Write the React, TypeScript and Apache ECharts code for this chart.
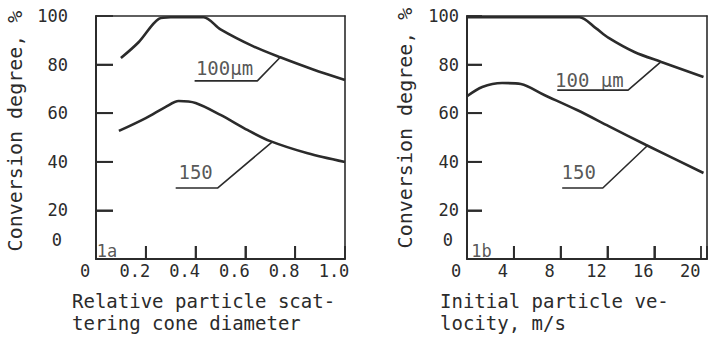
import React, { useEffect, useRef } from 'react';
import * as echarts from 'echarts';

// Panel 1a: conversion vs relative particle scattering cone diameter
const xA100 = [0.10, 0.172, 0.252, 0.30, 0.432, 0.50, 0.632, 0.74, 0.872, 1.0];
const yA100 = [82.7, 89.3, 98.8, 99.5, 99.5, 94.5, 87.5, 83.0, 78.0, 73.7];
const xA150 = [0.092, 0.2, 0.28, 0.332, 0.4, 0.5, 0.61, 0.70, 0.85, 1.0];
const yA150 = [52.7, 58.0, 62.6, 65.0, 64.2, 59.3, 53.0, 48.5, 43.5, 39.9];

// Panel 1b: conversion vs initial particle velocity
const xB100 = [0, 9.6, 11.0, 12.1, 14.3, 16.6, 20.2];
const yB100 = [99.5, 99.5, 95.0, 91.0, 85.2, 81.1, 74.9];
const xB150 = [0, 1.3, 3.0, 4.6, 6.6, 9.4, 12.1, 15.3, 20.2];
const yB150 = [67.0, 70.8, 72.4, 72.0, 67.5, 61.3, 54.7, 46.9, 35.4];

// Tick values / labels
const yTickValues = [20, 40, 60, 80];
const yLabelValues = [0, 20, 40, 60, 80, 100];
const xTickValuesA = [0.2, 0.4, 0.6, 0.8];
const xLabelValuesA = [0, 0.2, 0.4, 0.6, 0.8, 1.0];
const xLabelTextA = ['0', '0.2', '0.4', '0.6', '0.8', '1.0'];
const xTickValuesB = [4, 8, 12, 16];
const xLabelValuesB = [0, 4, 8, 12, 16, 20];
const xLabelTextB = ['0', '4', '8', '12', '16', '20'];

// Annotation leaders (data coordinates) and labels
const leaderA100x = [0.396, 0.648, 0.74];
const leaderA100y = [73.3, 73.3, 83.0];
const leaderA150x = [0.32, 0.488, 0.708];
const leaderA150y = [29.2, 29.2, 48.2];
const leaderB100x = [7.71, 13.76, 16.58];
const leaderB100y = [69.5, 69.5, 81.2];
const leaderB150x = [8.13, 11.6, 15.4];
const leaderB150y = [29.2, 29.2, 46.6];

const labelA100 = { text: '100µm', x: 0.516, y: 78.6 };
const labelA150 = { text: '150', x: 0.40, y: 35.8 };
const labelB100 = { text: '100 µm', x: 10.45, y: 73.7 };
const labelB150 = { text: '150', x: 9.54, y: 35.8 };
const panelA = { text: '1a', x: 0.044, y: 3.3 };
const panelB = { text: '1b', x: 1.24, y: 3.3 };

const yName = 'Conversion degree, %';
const xNameA = 'Relative particle scat-\ntering cone diameter';
const xNameB = 'Initial particle ve-\nlocity, m/s';

const FONT = '"DejaVu Sans Mono", monospace';
const INK = '#2b2b2b';

const XMAX_A = 1;
const XMAX_B = 20.5;

const zip = (xs: number[], ys: number[]) => xs.map((x, i) => [x, ys[i]]);

export default function App() {
  const ref = useRef<HTMLDivElement>(null);
  useEffect(() => {
    if (!ref.current) return;
    const chart = echarts.init(ref.current, undefined, { renderer: 'svg' });

    const segment = (data: number[][], idx: number, width: number) => ({
      type: 'line',
      xAxisIndex: idx,
      yAxisIndex: idx,
      data,
      symbol: 'none',
      clip: false,
      lineStyle: { color: INK, width },
      silent: true,
    });

    const curve = (data: number[][], idx: number) => ({
      type: 'line',
      xAxisIndex: idx,
      yAxisIndex: idx,
      data,
      smooth: 0.3,
      symbol: 'none',
      lineStyle: { color: INK, width: 2.6 },
      silent: true,
    });
    const tag = (l: { text: string; x: number; y: number }, idx: number, size: number) => ({
      type: 'scatter',
      xAxisIndex: idx,
      yAxisIndex: idx,
      symbolSize: 0,
      data: [[l.x, l.y]],
      label: {
        show: true,
        position: 'inside',
        formatter: l.text,
        fontFamily: FONT,
        fontSize: size,
        color: INK,
      },
      silent: true,
    });

    const yAxis = (idx: number, margin: number, tickLen: number) => ({
      type: 'value',
      gridIndex: idx,
      position: 'left',
      min: 0,
      max: 100,
      interval: 20,
      splitLine: { show: false },
      axisLine: { show: true, onZero: false, lineStyle: { color: INK, width: 2 } },
      axisTick: { show: true, inside: true, length: tickLen, lineStyle: { color: INK, width: 1.8 } },
      axisLabel: {
        margin,
        fontFamily: FONT,
        fontSize: 17,
        color: INK,
        formatter: (v: number) => {
          const i = yLabelValues.indexOf(v);
          if (i < 0) return '';
          return v === 0 ? '{z|0}' : String(yLabelValues[i]);
        },
        rich: {
          z: { fontFamily: FONT, fontSize: 17, color: INK, padding: [0, 6, 38, 0] },
        },
      },
    });

    const xAxis = (idx: number, max: number, interval: number, vals: number[], texts: string[]) => ({
      type: 'value',
      gridIndex: idx,
      position: 'bottom',
      min: 0,
      max,
      interval,
      splitLine: { show: false },
      axisLine: { show: true, onZero: false, lineStyle: { color: INK, width: 2 } },
      axisTick: { show: true, inside: true, length: 13, lineStyle: { color: INK, width: 1.8 } },
      axisLabel: {
        margin: 3,
        showMaxLabel: true,
        fontFamily: FONT,
        fontSize: 17,
        color: INK,
        padding: [0, 22, 0, 0],
        formatter: (v: number) => {
          const i = vals.findIndex((w) => Math.abs(w - v) < 1e-6);
          return i >= 0 ? texts[i] : '';
        },
      },
    });

    // frame axes (top and right edges of each panel)
    const frameX = (idx: number, max: number) => ({
      type: 'value',
      gridIndex: idx,
      position: 'top',
      min: 0,
      max,
      axisLine: { show: true, onZero: false, lineStyle: { color: INK, width: 1.6 } },
      axisTick: { show: false },
      axisLabel: { show: false },
      splitLine: { show: false },
    });
    const frameY = (idx: number) => ({
      type: 'value',
      gridIndex: idx,
      position: 'right',
      min: 0,
      max: 100,
      axisLine: { show: true, onZero: false, lineStyle: { color: INK, width: 1.6 } },
      axisTick: { show: false },
      axisLabel: { show: false },
      splitLine: { show: false },
    });

    const texts = [
      {
        type: 'text',
        x: 15,
        y: 131,
        rotation: Math.PI / 2,
        style: { text: yName, fontFamily: FONT, fontSize: 20, fill: INK, align: 'center', verticalAlign: 'middle' },
      },
      {
        type: 'text',
        x: 405,
        y: 128,
        rotation: Math.PI / 2,
        style: { text: yName, fontFamily: FONT, fontSize: 20, fill: INK, align: 'center', verticalAlign: 'middle' },
      },
      {
        type: 'text',
        x: 72,
        y: 290,
        style: { text: xNameA, fontFamily: FONT, fontSize: 19, lineHeight: 22, fill: INK, align: 'left', verticalAlign: 'top' },
      },
      {
        type: 'text',
        x: 440,
        y: 290,
        style: { text: xNameB, fontFamily: FONT, fontSize: 19, lineHeight: 22, fill: INK, align: 'left', verticalAlign: 'top' },
      },
    ];

    chart.setOption({
      animation: false,
      backgroundColor: '#ffffff',
      grid: [
        { left: 96, top: 16, width: 249, height: 243 },
        { left: 467, top: 16, width: 247, height: 243 },
      ],
      xAxis: [
        xAxis(0, XMAX_A, 0.2, xLabelValuesA, xLabelTextA),
        xAxis(1, XMAX_B, 4, xLabelValuesB, xLabelTextB),
        frameX(0, XMAX_A),
        frameX(1, XMAX_B),
      ],
      yAxis: [yAxis(0, 28, 17), yAxis(1, 8, 15), frameY(0), frameY(1)],
      series: [
        curve(zip(xA100, yA100), 0),
        curve(zip(xA150, yA150), 0),
        curve(zip(xB100, yB100), 1),
        curve(zip(xB150, yB150), 1),
        segment(zip(leaderA100x, leaderA100y), 0, 1.6),
        segment(zip(leaderA150x, leaderA150y), 0, 1.6),
        segment(zip(leaderB100x, leaderB100y), 1, 1.6),
        segment(zip(leaderB150x, leaderB150y), 1, 1.6),
        tag(labelA100, 0, 19),
        tag(labelA150, 0, 19),
        tag(labelB100, 1, 19),
        tag(labelB150, 1, 19),
        tag(panelA, 0, 17),
        tag(panelB, 1, 17),
      ],
      graphic: texts,
    });

    // extra inward tick marks, positioned through the axes' own scales
    const tickMarks: any[] = [];
    const addTicks = (gridIndex: number, yLen: number, xLen: number, xTicks: number[]) => {
      yTickValues.forEach((v) => {
        const p = chart.convertToPixel({ gridIndex }, [0, v]) as number[];
        if (!p) return;
        tickMarks.push({
          type: 'rect',
          z: 100,
          shape: { x: p[0], y: p[1] - 0.9, width: yLen, height: 1.8 },
          style: { fill: INK },
        });
      });
      xTicks.forEach((v) => {
        const p = chart.convertToPixel({ gridIndex }, [v, 0]) as number[];
        if (!p) return;
        tickMarks.push({
          type: 'rect',
          z: 100,
          shape: { x: p[0] - 0.9, y: p[1] - xLen, width: 1.8, height: xLen },
          style: { fill: INK },
        });
      });
    };
    try {
      addTicks(0, 17, 13, xTickValuesA);
      addTicks(1, 15, 13, xTickValuesB);
      chart.setOption({ graphic: [...texts, ...tickMarks] });
    } catch (e) {
      // keep the chart even if conversion fails
    }

    return () => chart.dispose();
  }, []);
  return <div ref={ref} style={{ width: 710, height: 341, position: 'absolute', left: 0, top: 0 }} />;
}
